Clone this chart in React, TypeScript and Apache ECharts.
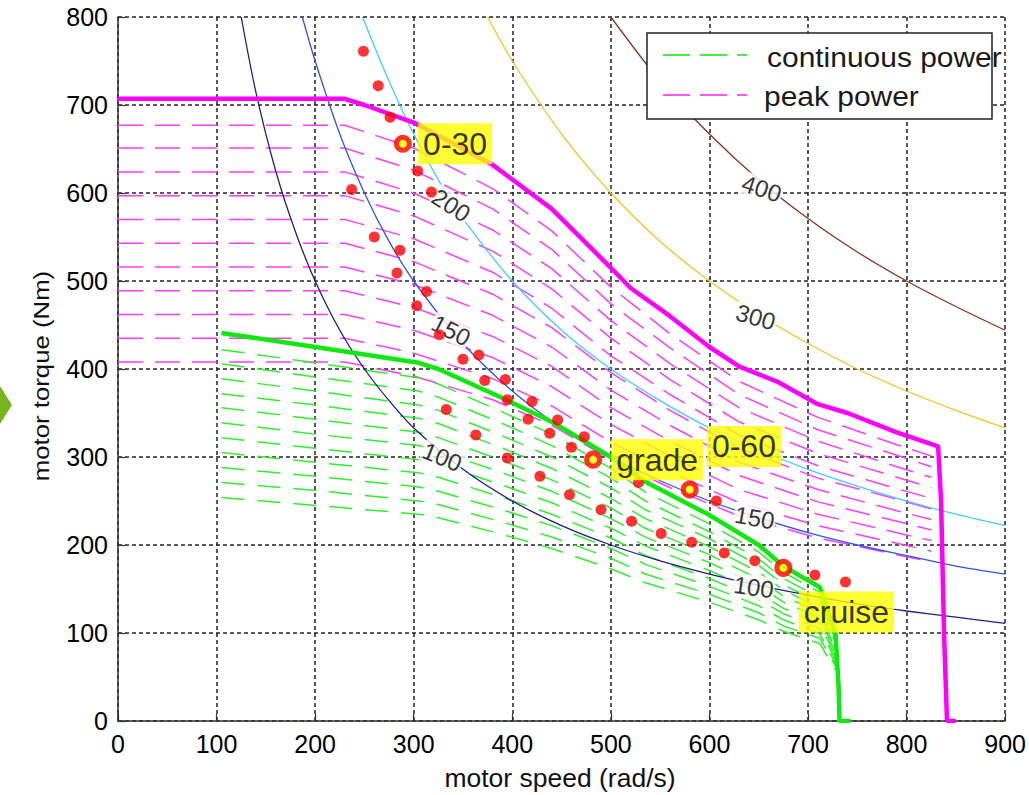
import React, { useEffect, useRef } from "react";
import * as echarts from "echarts";

// ---- axes ----
const xMin = 0, xMax = 900, xStep = 100;
const yMin = 0, yMax = 800, yStep = 100;

// ---- envelopes (speed rad/s, torque Nm) ----
const peakEnvelope: [number, number][] = [
  [0, 707], [230, 707], [250, 700], [300, 680], [380, 632], [440, 582], [500, 515], [520, 492],
  [560, 460], [600, 425], [630, 403], [670, 385], [710, 360], [740, 350], [790, 328], [832, 312],
  [835, 250], [838, 100], [841, 0], [850, 0],
];
const contEnvelope: [number, number][] = [
  [105, 441], [200, 425], [305, 407], [325, 400], [390, 367], [440, 340], [500, 300], [535, 272],
  [600, 234], [650, 200], [675, 176], [712, 152], [728, 98], [731, 40], [732, 0], [743, 0],
];

// ---- hatch lines (dashed) ----
const peakHatchX = [0, 230, 300, 380, 440, 500, 560, 630, 710, 790, 825];
const peakHatch = [
  [677, 677, 651, 605, 557, 493, 440, 386, 345, 314, 301],
  [651, 651, 626, 582, 536, 474, 424, 371, 331, 302, 289],
  [624, 624, 600, 558, 514, 455, 406, 356, 318, 289, 277],
  [597, 597, 574, 534, 491, 435, 388, 340, 304, 277, 265],
  [570, 570, 548, 510, 469, 415, 371, 325, 290, 264, 253],
  [543, 543, 522, 485, 447, 396, 353, 310, 276, 252, 241],
  [516, 516, 496, 461, 425, 376, 336, 294, 263, 239, 229],
  [489, 489, 470, 437, 403, 356, 318, 279, 249, 227, 217],
  [462, 462, 444, 413, 380, 337, 301, 263, 235, 214, 205],
  [435, 435, 418, 389, 358, 317, 283, 248, 222, 202, 193],
  [408, 408, 392, 365, 336, 297, 265, 233, 208, 189, 181],
];
const contHatchX = [105, 200, 305, 325, 390, 440, 500, 535, 600, 650, 675, 712, 728];
const contHatch = [
  [422, 407, 390, 383, 351, 326, 287, 260, 224, 192, 169, 146, 96],
  [406, 391, 375, 368, 338, 313, 276, 250, 215, 184, 162, 140, 92],
  [389, 375, 359, 353, 324, 300, 265, 240, 207, 177, 155, 134, 88],
  [372, 359, 344, 338, 310, 287, 253, 230, 198, 169, 149, 128, 84],
  [356, 343, 328, 322, 296, 274, 242, 219, 189, 161, 142, 123, 81],
  [339, 326, 313, 307, 282, 261, 230, 209, 180, 154, 135, 117, 77],
  [322, 310, 297, 292, 268, 248, 219, 199, 171, 146, 128, 111, 73],
  [305, 294, 282, 277, 254, 235, 208, 188, 162, 138, 122, 105, 69],
  [288, 278, 266, 261, 240, 222, 196, 178, 153, 131, 115, 99, 65],
  [271, 262, 250, 246, 226, 209, 185, 167, 144, 123, 108, 94, 62],
  [254, 245, 235, 231, 212, 196, 173, 157, 135, 115, 102, 88, 58],
];

// ---- constant power contours (kW) ----
const contour100: [number, number][] = [
  [125, 800], [140, 714], [160, 625], [180, 556], [200, 500], [225, 444], [250, 400], [275, 364],
  [300, 333], [350, 286], [400, 250], [450, 222], [500, 200], [550, 182], [600, 167], [650, 154],
  [700, 143], [750, 133], [800, 125], [850, 118], [900, 111],
];
const contour150: [number, number][] = [
  [187, 800], [200, 750], [225, 667], [250, 600], [275, 545], [300, 500], [350, 429], [400, 375],
  [450, 333], [500, 300], [550, 273], [600, 250], [650, 231], [700, 214], [750, 200], [800, 188],
  [850, 176], [900, 167],
];
const contour200: [number, number][] = [
  [248, 800], [275, 727], [300, 667], [325, 615], [350, 571], [400, 500], [450, 444], [500, 400],
  [550, 364], [600, 333], [650, 308], [700, 286], [750, 267], [800, 250], [850, 235], [900, 222],
];
const contour300: [number, number][] = [
  [375, 800], [400, 750], [450, 667], [500, 600], [550, 545], [600, 500], [650, 462], [700, 429],
  [750, 400], [800, 375], [850, 353], [900, 333],
];
const contour400: [number, number][] = [
  [500, 800], [550, 727], [600, 667], [650, 615], [700, 571], [750, 533], [800, 500], [850, 471],
  [900, 444],
];
const contourLabels: { x: number; y: number; text: string; rot: number }[] = [
  { x: 338, y: 586, text: "200", rot: -33 },
  { x: 338, y: 444, text: "150", rot: -27 },
  { x: 329, y: 300, text: "100", rot: -22 },
  { x: 653, y: 605, text: "400", rot: -18 },
  { x: 647, y: 459, text: "300", rot: -16 },
  { x: 646, y: 231, text: "150", rot: -10 },
  { x: 645, y: 152, text: "100", rot: -8 },
];

// ---- drive cycle operating points ----
const opPoints: [number, number][] = [
  [249, 761], [264, 722], [276, 686], [304, 625], [237, 604], [318, 601], [260, 550], [286, 535],
  [283, 509], [313, 488], [303, 472], [326, 439], [350, 411], [366, 416], [372, 387], [393, 388],
  [333, 354], [363, 325], [395, 299], [428, 278], [395, 365], [420, 363], [416, 343], [446, 342],
  [438, 327], [473, 323], [460, 311], [458, 257], [490, 240], [528, 271], [607, 250], [521, 227],
  [551, 213], [582, 203], [615, 191], [646, 182], [707, 166], [738, 158],
];
const keyPoints: [number, number][] = [[289, 656], [482, 297], [580, 263], [675, 174]];
const annotations: { x: number; y: number; text: string }[] = [
  { x: 342, y: 656, text: "0-30" },
  { x: 547, y: 297, text: "grade" },
  { x: 635, y: 312, text: "0-60" },
  { x: 739, y: 124, text: "cruise" },
];

const legendNames = ["continuous power", "peak power"];

export default function App() {
  const ref = useRef<HTMLDivElement>(null);
  useEffect(() => {
    const chart = echarts.init(ref.current!, null, { renderer: "svg" });
    const font = "'Liberation Sans', Arial, Helvetica, sans-serif";
    const series: any[] = [];
    peakHatch.forEach((ys) =>
      series.push({
        type: "line", silent: true, z: 2, symbol: "none", showSymbol: false,
        data: peakHatchX.map((x, j) => [x, ys[j]]),
        lineStyle: { color: "#ff3cff", width: 1.5, type: [25, 12] },
      })
    );
    contHatch.forEach((ys) =>
      series.push({
        type: "line", silent: true, z: 2, symbol: "none", showSymbol: false,
        data: contHatchX.map((x, j) => [x, ys[j]]),
        lineStyle: { color: "#2ef02e", width: 1.5, type: [23, 13] },
      })
    );
    const contours: [any, string][] = [
      [contour100, "#1e1e8c"],
      [contour150, "#2f55e6"],
      [contour200, "#44ccff"],
      [contour300, "#ffc21a"],
      [contour400, "#8a3424"],
    ];
    contours.forEach(([d, c]) =>
      series.push({
        type: "line", silent: true, z: 3, symbol: "none", showSymbol: false, smooth: 0.3,
        data: d, lineStyle: { color: c, width: 1.3 },
      })
    );
    series.push({
      type: "scatter", silent: true, z: 4, symbolSize: 1, itemStyle: { color: "transparent" },
      data: contourLabels.map((l) => ({ value: [l.x, l.y], name: l.text, label: { rotate: l.rot } })),
      label: {
        show: true, position: "inside", formatter: "{b}", fontSize: 24, fontFamily: font,
        color: "#000", backgroundColor: "#ffffff", padding: [0, 1],
      },
    });
    series.push({
      type: "line", silent: true, z: 5, symbol: "none", showSymbol: false, data: peakEnvelope,
      lineStyle: { color: "#ff00ff", width: 4.5 },
    });
    series.push({
      type: "line", silent: true, z: 5, symbol: "none", showSymbol: false, data: contEnvelope,
      lineStyle: { color: "#11e811", width: 4.5 },
    });
    series.push({
      type: "scatter", silent: true, z: 6, symbolSize: 11, data: opPoints,
      itemStyle: { color: "#ff0000" },
    });
    series.push({
      type: "scatter", silent: true, z: 7, symbolSize: 13, data: keyPoints,
      itemStyle: { color: "#ffff00", borderColor: "#ff0000", borderWidth: 5 },
    });
    series.push({
      type: "scatter", silent: true, z: 10, symbolSize: 1, itemStyle: { color: "transparent" },
      data: annotations.map((a) => ({ value: [a.x, a.y], name: a.text })),
      label: {
        show: true, position: "inside", formatter: "{b}", fontSize: 32, fontFamily: font,
        color: "#000", backgroundColor: "#ffff00", padding: [5, 5, 4, 5],
      },
    });

    const axisCommon = {
      type: "value",
      axisLine: { show: true, lineStyle: { color: "#333", width: 1.5 } },
      axisTick: { show: true, inside: true, length: 7, lineStyle: { color: "#333", width: 1.2 } },
      splitLine: { show: true, lineStyle: { color: "#222", width: 1.5, type: [4, 3] } },
      axisLabel: { fontSize: 25, color: "#000", fontFamily: font },
    };

    chart.setOption({
      animation: false,
      backgroundColor: "#ffffff",
      grid: { left: 118, top: 17, width: 889, height: 704 },
      xAxis: { ...axisCommon, min: xMin, max: xMax, interval: xStep,
        axisLabel: { ...axisCommon.axisLabel, margin: 10 } },
      yAxis: { ...axisCommon, min: yMin, max: yMax, interval: yStep,
        axisLabel: { ...axisCommon.axisLabel, margin: 10 } },
      series,
      graphic: [
        { type: "polygon", z: 100, shape: { points: [[0, 386], [12, 405], [0, 424]] }, style: { fill: "#78b41e" } },
        {
          type: "text", z: 100, x: 41, y: 376, rotation: Math.PI / 2, scaleX: 1.12,
          style: { text: "motor torque (Nm)", fontSize: 23, fontFamily: font, fill: "#111",
            align: "center", verticalAlign: "middle", textAlign: "center", textVerticalAlign: "middle" },
        },
        {
          type: "text", z: 100, x: 560, y: 778, scaleX: 1.06,
          style: { text: "motor speed (rad/s)", fontSize: 25, fontFamily: font, fill: "#111",
            align: "center", verticalAlign: "middle", textAlign: "center", textVerticalAlign: "middle" },
        },
        {
          type: "rect", z: 100, shape: { x: 647, y: 33, width: 345, height: 86 },
          style: { fill: "#ffffff", stroke: "#222", lineWidth: 1.5 },
        },
        {
          type: "line", z: 101, shape: { x1: 663, y1: 55, x2: 747, y2: 55 },
          style: { stroke: "#44ee44", lineWidth: 2, lineDash: [27, 10] },
        },
        {
          type: "line", z: 101, shape: { x1: 663, y1: 95, x2: 747, y2: 95 },
          style: { stroke: "#ff55ff", lineWidth: 2, lineDash: [27, 10] },
        },
        {
          type: "text", z: 101, x: 767, y: 57, scaleX: 1.07,
          style: { text: legendNames[0], fontSize: 28, fontFamily: font, fill: "#1a1a1a",
            align: "left", verticalAlign: "middle", textAlign: "left", textVerticalAlign: "middle" },
        },
        {
          type: "text", z: 101, x: 764, y: 96, scaleX: 1.07,
          style: { text: legendNames[1], fontSize: 28, fontFamily: font, fill: "#1a1a1a",
            align: "left", verticalAlign: "middle", textAlign: "left", textVerticalAlign: "middle" },
        },
      ],
    });
    return () => chart.dispose();
  }, []);
  return (
    <div
      ref={ref}
      style={{ position: "fixed", left: 0, top: 0, width: 1029, height: 795, background: "#fff" }}
    />
  );
}
